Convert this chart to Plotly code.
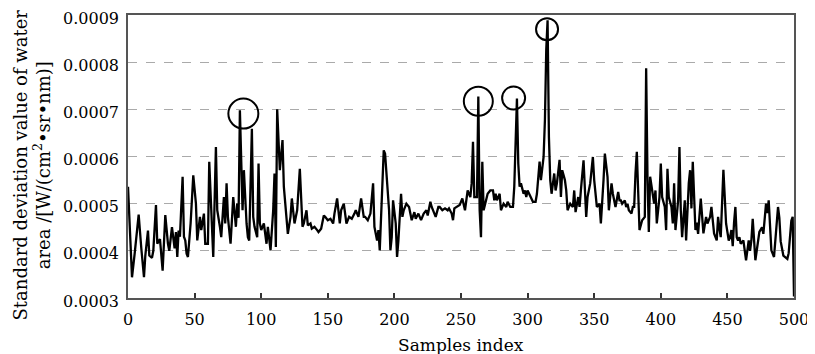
import plotly.graph_objects as go

# Sample index and standard deviation values (in units of 1e-4 W/(cm^2*sr*nm))
sample_index = [
    0, 1, 2, 3, 5, 6, 8, 10, 12, 13, 15, 16, 18, 19, 21, 22, 24, 26, 28, 30,
    31, 33, 35, 36, 37, 38, 39, 41, 42, 43, 44, 45, 47, 49, 51, 52, 54, 55, 57, 58,
    60, 61, 63, 64, 66, 67, 69, 70, 72, 73, 74, 75, 77, 78, 79, 81, 82, 83, 84, 86,
    87, 89, 90, 91, 93, 94, 95, 97, 98, 99, 100, 102, 104, 105, 107, 109, 110, 111, 112, 114,
    116, 117, 119, 120, 122, 123, 125, 127, 129, 130, 131, 132, 134, 135, 137, 138, 140, 142, 143, 145,
    147, 148, 150, 152, 154, 155, 157, 159, 160, 162, 163, 164, 166, 168, 170, 171, 173, 175, 177, 178,
    180, 182, 184, 185, 187, 188, 189, 190, 192, 193, 194, 196, 197, 198, 199, 201, 202, 203, 205, 206,
    207, 209, 211, 213, 215, 216, 218, 220, 222, 224, 225, 227, 228, 230, 231, 233, 234, 236, 238, 240,
    241, 243, 244, 245, 247, 249, 251, 252, 253, 255, 257, 258, 259, 260, 262, 263, 264, 265, 266, 267,
    269, 270, 272, 274, 275, 276, 277, 279, 280, 281, 282, 284, 285, 287, 289, 290, 292, 293, 294, 295,
    297, 298, 299, 300, 302, 303, 304, 306, 307, 309, 310, 312, 313, 314, 315, 316, 317, 318, 320, 321,
    322, 324, 325, 326, 328, 329, 330, 332, 334, 335, 336, 338, 339, 340, 342, 344, 345, 347, 349, 350,
    352, 354, 355, 357, 358, 360, 361, 363, 364, 366, 368, 369, 370, 371, 373, 374, 375, 376, 378, 379,
    380, 381, 382, 384, 385, 386, 388, 389, 390, 391, 392, 394, 395, 396, 397, 399, 400, 401, 403, 404,
    405, 406, 408, 409, 410, 411, 413, 414, 415, 416, 418, 419, 420, 421, 422, 423, 424, 426, 427, 428,
    430, 432, 434, 435, 436, 437, 438, 440, 442, 443, 444, 445, 447, 448, 449, 451, 452, 453, 454, 455,
    456, 457, 458, 459, 460, 462, 464, 466, 467, 468, 469, 471, 473, 474, 476, 477, 479, 480, 481, 482,
    483, 485, 487, 488, 489, 490, 492, 494, 495, 496, 498, 499, 500,
]
std_value_e4 = [
    5.36, 4.6, 3.8, 3.44, 3.94, 4.2, 4.77, 4.05, 3.44, 3.9, 4.43, 3.9, 3.85, 4.0, 4.97, 4.15, 4.25, 3.58, 4.76, 4.15,
    4.0, 4.5, 4.05, 4.4, 3.87, 4.43, 4.3, 5.57, 4.3, 4.22, 3.94, 3.87, 4.58, 5.6, 5.0, 4.22, 4.72, 4.44, 4.79, 4.15,
    4.15, 5.89, 4.72, 3.87, 6.2, 4.86, 4.51, 4.29, 5.14, 4.58, 5.43, 4.72, 4.15, 4.58, 5.14, 4.51, 5.0, 4.7, 6.98, 4.86,
    5.71, 4.58, 4.29, 4.22, 6.59, 4.72, 4.51, 4.29, 5.85, 4.58, 4.44, 4.58, 4.15, 4.51, 4.01, 4.86, 5.64, 4.08, 7.0, 5.71,
    6.35, 5.36, 4.58, 4.36, 4.72, 5.11, 4.58, 4.86, 5.74, 4.93, 4.51, 4.58, 4.86, 4.54, 4.58, 4.47, 4.51, 4.44, 4.4, 4.47,
    4.75, 4.72, 4.65, 4.68, 4.58, 4.79, 5.11, 4.58, 4.86, 5.0, 4.72, 4.58, 4.72, 4.68, 4.79, 4.86, 4.72, 5.11, 4.72, 4.72,
    4.65, 4.79, 5.43, 4.51, 4.22, 4.44, 4.01, 4.72, 6.13, 6.06, 5.57, 4.86, 4.01, 4.29, 5.07, 4.58, 3.87, 4.22, 5.21, 4.72,
    4.86, 5.0, 4.93, 4.65, 4.82, 4.68, 4.79, 4.65, 4.79, 4.86, 4.75, 5.04, 4.93, 4.79, 4.72, 4.93, 4.93, 4.86, 4.9, 4.86,
    4.9, 4.79, 4.65, 4.9, 4.93, 4.97, 5.11, 5.0, 4.86, 5.28, 5.14, 5.43, 6.31, 5.14, 5.14, 7.27, 4.86, 4.29, 5.89, 4.86,
    5.14, 5.21, 5.28, 5.28, 5.07, 5.21, 5.07, 5.21, 4.86, 4.93, 5.0, 4.93, 5.04, 4.93, 4.93, 5.36, 7.23, 5.85, 5.36, 5.43,
    5.21, 5.28, 5.14, 5.28, 5.14, 5.07, 5.04, 5.04, 5.21, 5.89, 5.5, 5.99, 6.77, 8.26, 8.89, 6.42, 5.5, 5.21, 5.64, 5.28,
    5.43, 5.93, 5.14, 5.71, 5.5, 5.28, 4.86, 5.0, 4.93, 5.28, 4.82, 5.14, 4.93, 5.28, 5.92, 4.72, 5.14, 5.43, 5.99, 5.5,
    4.93, 5.0, 4.58, 5.5, 6.06, 5.57, 4.86, 5.43, 5.21, 4.93, 5.25, 5.07, 5.07, 5.0, 5.07, 4.93, 5.0, 4.86, 4.79, 4.93,
    4.93, 5.64, 6.1, 4.44, 4.58, 4.65, 4.72, 7.87, 5.57, 4.4, 5.57, 5.14, 5.0, 5.28, 4.58, 5.14, 5.85, 5.14, 4.93, 4.44,
    5.74, 5.14, 4.93, 4.58, 5.43, 4.44, 5.07, 6.2, 4.86, 4.29, 5.07, 4.22, 4.86, 5.43, 5.71, 4.9, 5.89, 4.44, 4.6, 4.36,
    5.11, 4.37, 4.72, 4.58, 4.65, 4.72, 4.93, 4.37, 4.22, 4.72, 4.47, 4.29, 5.72, 5.14, 4.58, 4.22, 4.29, 4.44, 4.1, 4.6,
    4.93, 4.29, 4.22, 4.29, 4.15, 4.22, 3.8, 4.22, 4.0, 4.22, 4.68, 3.8, 4.15, 4.4, 4.5, 4.36, 5.0, 4.8, 5.07, 4.4,
    4.01, 3.87, 4.58, 4.93, 4.7, 4.2, 3.9, 3.85, 3.83, 3.95, 4.64, 4.72, 3.03,
]
std_value = [v * 1e-4 for v in std_value_e4]

# Highlighted peaks (sample index, value e-4, circle diameter px)
circle_x = [86.6, 263, 289.5, 314.6]
circle_y_e4 = [6.91, 7.17, 7.24, 8.70]
circle_d = [30, 29, 23, 22]

y_ticks = [0.0003, 0.0004, 0.0005, 0.0006, 0.0007, 0.0008, 0.0009]
x_ticks = [0, 50, 100, 150, 200, 250, 300, 350, 400, 450, 500]

FONT = "DejaVu Serif"

# page body has an 8px default margin; size the figure so the plot lands where the reference has it
ML, MR, MT, MB = 120, 21, 7, 56
W, H = 807, 346
PW, PH = W - ML - MR, H - MT - MB

fig = go.Figure()
fig.add_trace(go.Scatter(
    x=sample_index, y=std_value, mode="lines",
    line=dict(color="black", width=2.3), showlegend=False,
))

for cx, cy, d in zip(circle_x, circle_y_e4, circle_d):
    fig.add_shape(
        type="circle", xref="x", yref="y",
        xsizemode="pixel", ysizemode="pixel",
        xanchor=cx, yanchor=cy * 1e-4,
        x0=-d / 2, x1=d / 2, y0=-d / 2, y1=d / 2,
        line=dict(color="black", width=2),
    )

fig.update_layout(
    width=W, height=H,
    margin=dict(l=ML, r=MR, t=MT, b=MB, autoexpand=False),
    paper_bgcolor="white", plot_bgcolor="white",
    font=dict(family=FONT, size=16, color="black"),
    xaxis=dict(
        range=[0, 500], tickvals=x_ticks, ticks="inside", ticklen=5,
        tickcolor="#333", tickwidth=1.5, automargin=False,
        showline=True, linecolor="#555", linewidth=1.5, mirror=True,
        showgrid=False, zeroline=False, ticklabelstandoff=6,
        tickfont=dict(family=FONT, size=16, color="black"),
    ),
    yaxis=dict(
        range=[0.0003, 0.0009], tickvals=y_ticks, tickformat=".4f",
        ticks="", showline=True, linecolor="#555", linewidth=1.5, mirror=True,
        showgrid=True, gridcolor="#aaaaaa", griddash="dash", gridwidth=1,
        zeroline=False, ticklabelstandoff=4, ticklabeloverflow="allow",
        ticklabelshift=3, automargin=False,
        tickfont=dict(family=FONT, size=16, color="black"),
    ),
    annotations=[
        dict(
            text="Standard deviation value of water<br>area /[W/(cm<sup>2</sup>•sr•nm)]",
            xref="paper", yref="paper", x=(23.5 - ML) / PW, y=0.47,
            xanchor="center", yanchor="middle", textangle=-90, showarrow=False,
            font=dict(family=FONT, size=18, color="black"),
        ),
        dict(
            text="Samples index", xref="paper", yref="paper",
            x=0.5, y=-(337 - (H - MB)) / PH, xanchor="center", yanchor="middle",
            showarrow=False, font=dict(family=FONT, size=17, color="black"),
        ),
    ],
)

fig.write_html("out.html")
